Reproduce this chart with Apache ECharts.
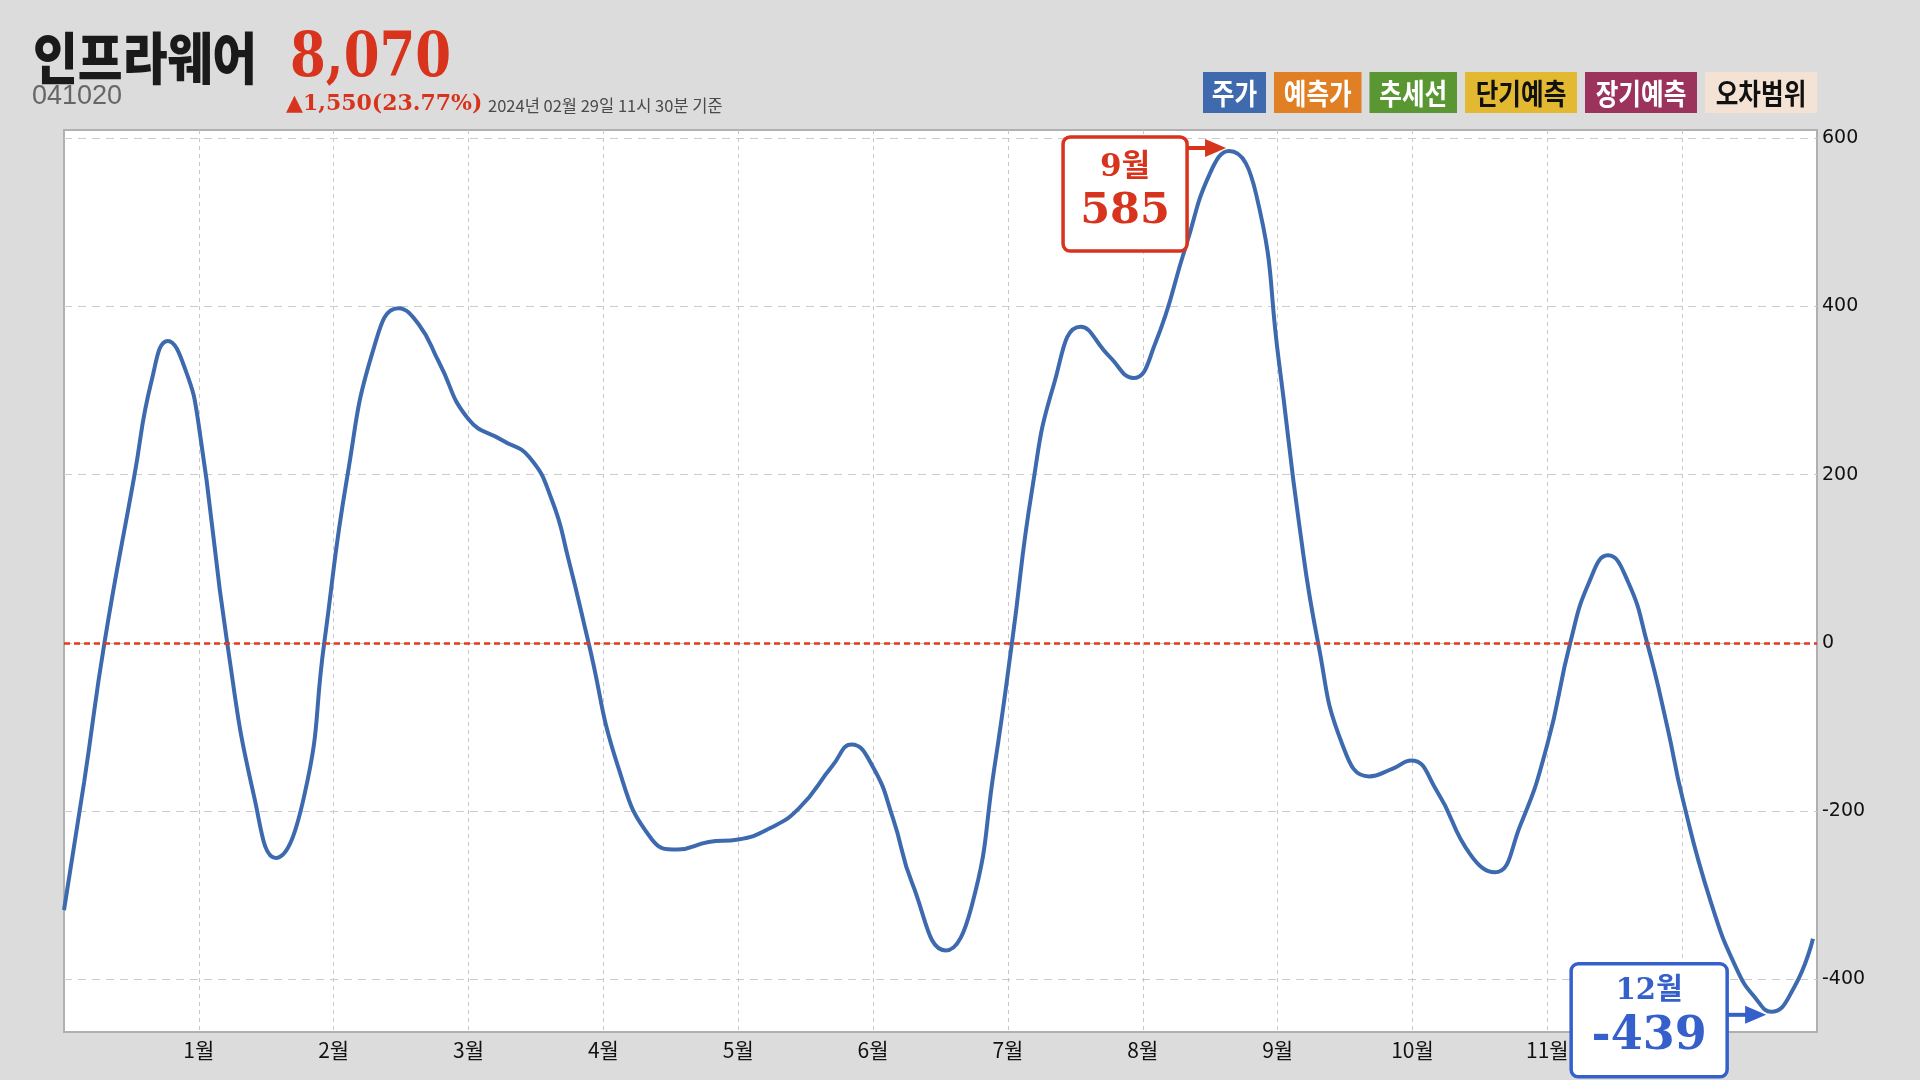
<!DOCTYPE html>
<html><head><meta charset="utf-8">
<script src="https://cdn.jsdelivr.net/npm/echarts@6/dist/echarts.min.js"></script>
<style>html,body{margin:0;padding:0;background:#dcdcdc;}#c{width:1920px;height:1080px;}</style>
</head><body><div id="c"></div>
<script>
// ---- data ----
const monthX = [0.00,0.15,0.30,0.52,0.65,0.77,0.90,1.00,1.21,1.41,1.57,1.78,1.93,2.10,2.30,2.48,2.63,2.78,3.00,3.25,3.45,3.62,3.74,3.89,4.11,4.36,4.55,4.78,5.00,5.23,5.45,5.70,5.84,6.00,6.15,6.29,6.54,6.73,6.90,7.03,7.18,7.34,7.54,7.75,7.93,8.09,8.32,8.50,8.64,8.84,9.01,9.16,9.30,9.48,9.68,9.85,9.99,10.18,10.43,10.61,10.80,11.00,11.17,11.31,11.45,11.60,11.74,11.89,12.00,12.21,12.41,12.55,12.66,12.83,12.97];
const values = [-318,-165,0,197,312,359,325,258,0,-183,-256,-183,0,197,352,398,379,334,266,241,221,169,100,0,-148,-234,-246,-237,-234,-221,-197,-146,-121,-148,-210,-286,-366,-314,-148,0,183,307,376,341,315,355,472,559,585,534,334,141,0,-121,-159,-150,-140,-176,-252,-273,-217,-121,0,72,104,72,0,-100,-183,-307,-390,-424,-439,-410,-352];
const monthTicks = [1,2,3,4,5,6,7,8,9,10,11,12];
const monthLabels = ['1월','2월','3월','4월','5월','6월','7월','8월','9월','10월','11월','12월'];
const yTicks = [-400,-200,0,200,400,600];
const legendNames = ['주가','예측가','추세선','단기예측','장기예측','오차범위'];
const legendColors = ['#3f6aad','#e07f24','#5a9632','#e3b931','#9b335d','#f4e3d5'];
const legendTextColors = ['#ffffff','#ffffff','#ffffff','#111111','#ffffff','#111111'];
const stockName = '인프라웨어';
const stockCode = '041020';
const priceText = '8,070';
const changeText = '▲1,550(23.77%)';
const asOfText = '2024년 02월 29일 11시 30분 기준';
const peakMonthLabel = '9월';
const troughMonthLabel = '12월';

const RED = '#d8331c';
const BLUE = '#3560cc';
const seriesData = monthX.map((x, i) => [x, values[i]]);

const chart = echarts.init(document.getElementById('c'), null, {renderer: 'canvas'});
chart.setOption({
  animation: false,
  backgroundColor: '#dcdcdc',
  grid: {left: 64, top: 130, right: 103, bottom: 48, show: true, backgroundColor: '#ffffff', borderColor: '#b0b0b0', borderWidth: 2},
  xAxis: {
    type: 'value', min: 0, max: 13,
    axisLine: {show: false},
    axisTick: {show: false, customValues: monthTicks},
    axisLabel: {customValues: monthTicks, formatter: v => monthLabels[monthTicks.indexOf(v)] || '', fontFamily: 'Noto Sans CJK KR', fontSize: 21, color: '#111', margin: 8},
    splitLine: {show: true, lineStyle: {color: '#c8c8c8', type: [4, 4], width: 1}}
  },
  yAxis: {
    type: 'value', position: 'right', min: -463, max: 610,
    axisLine: {show: false},
    axisTick: {show: false, customValues: yTicks},
    axisLabel: {customValues: yTicks, fontFamily: 'DejaVu Sans', fontSize: 19, color: '#111', margin: 5},
    splitLine: {show: true, lineStyle: {color: '#cccccc', type: [8, 6], width: 1}}
  },
  series: [{
    type: 'line', data: seriesData, smooth: 0.5, showSymbol: false,
    lineStyle: {color: '#3d6aae', width: 4},
    markLine: {silent: true, symbol: ['none', 'none'], label: {show: false},
      lineStyle: {color: '#e23a1e', type: [6, 4], width: 2.5}, data: [{yAxis: 0}]}
  }]
});

// ---- annotations & header ----
let iMax = 0, iMin = 0;
values.forEach((v, i) => { if (v > values[iMax]) iMax = i; if (v < values[iMin]) iMin = i; });
const pk = chart.convertToPixel({gridIndex: 0}, [monthX[iMax], values[iMax]]);
const tr = chart.convertToPixel({gridIndex: 0}, [monthX[iMin], values[iMin]]);

function callout(tipX, tipY, boxX, boxY, w, h, color, label, valueStr, labelFs, valueFs, labelDy, valueDy) {
  const midY = tipY;
  return [
    {type: 'rect', shape: {x: boxX, y: boxY, width: w, height: h, r: 7}, style: {fill: '#ffffff', stroke: color, lineWidth: 3.5}, z: 100},
    {type: 'line', shape: {x1: boxX + w, y1: midY, x2: tipX - 18, y2: midY}, style: {stroke: color, lineWidth: 4}, z: 100},
    {type: 'polygon', shape: {points: [[tipX - 21, midY - 9], [tipX, midY], [tipX - 21, midY + 9]]}, style: {fill: color}, z: 100},
    {type: 'text', x: boxX + w / 2, y: boxY + labelDy, style: {text: label, font: 'bold ' + labelFs + 'px "DejaVu Serif", "Noto Sans CJK KR"', fill: color, align: 'center', verticalAlign: 'middle'}, z: 101},
    {type: 'text', x: boxX + w / 2, y: boxY + valueDy, style: {text: valueStr, font: 'bold ' + valueFs + 'px "DejaVu Serif"', fill: color, align: 'center', verticalAlign: 'middle'}, z: 101}
  ];
}

const g = [];
const pTipX = pk[0] - 3, pTipY = pk[1] - 3;
g.push(...callout(pTipX, pTipY, pTipX - 39 - 124, pTipY - 11, 124, 114, RED, peakMonthLabel, String(values[iMax]), 31, 43, 31, 75));
const tTipX = tr[0] - 5, tTipY = tr[1] + 3;
g.push(...callout(tTipX, tTipY, tTipX - 39 - 156, tTipY - 51, 156, 113, BLUE, troughMonthLabel, String(values[iMin]), 29, 46, 28, 73));

// header
g.push({type: 'text', x: 33, y: 58, scaleX: 0.87, style: {text: stockName, font: '900 56px "Noto Sans CJK KR"', fill: '#1a1a1a', align: 'left', verticalAlign: 'middle'}});
g.push({type: 'text', x: 290, y: 60, scaleX: 0.83, style: {text: priceText, font: 'bold 62px "DejaVu Serif"', fill: RED, align: 'left', verticalAlign: 'middle'}});
g.push({type: 'text', x: 32, y: 97, style: {text: stockCode, font: '27px "Liberation Sans"', fill: '#666666', align: 'left', verticalAlign: 'middle'}});
g.push({type: 'text', x: 286, y: 104, style: {text: changeText, font: 'bold 22px "DejaVu Serif"', fill: RED, align: 'left', verticalAlign: 'middle'}});
g.push({type: 'text', x: 488, y: 106, style: {text: asOfText, font: '16.5px "Noto Sans CJK KR"', fill: '#4a4a4a', align: 'left', verticalAlign: 'middle'}});

// legend boxes, right aligned at plot right edge
const charW = 24.5, pad = 14, gap = 8, legTop = 72, legH = 41;
let right = 1817;
const widths = legendNames.map(n => n.length * charW + pad);
for (let i = legendNames.length - 1; i >= 0; i--) {
  const w = widths[i];
  const x = right - w;
  g.push({type: 'rect', shape: {x: x, y: legTop, width: w, height: legH}, style: {fill: legendColors[i]}});
  g.push({type: 'text', x: x + w / 2, y: legTop + legH / 2 + 1, scaleX: 0.85, style: {text: legendNames[i], font: 'bold 29px "Noto Sans CJK KR"', fill: legendTextColors[i], align: 'center', verticalAlign: 'middle'}});
  right = x - gap;
}

chart.setOption({graphic: g});
</script></body></html>
